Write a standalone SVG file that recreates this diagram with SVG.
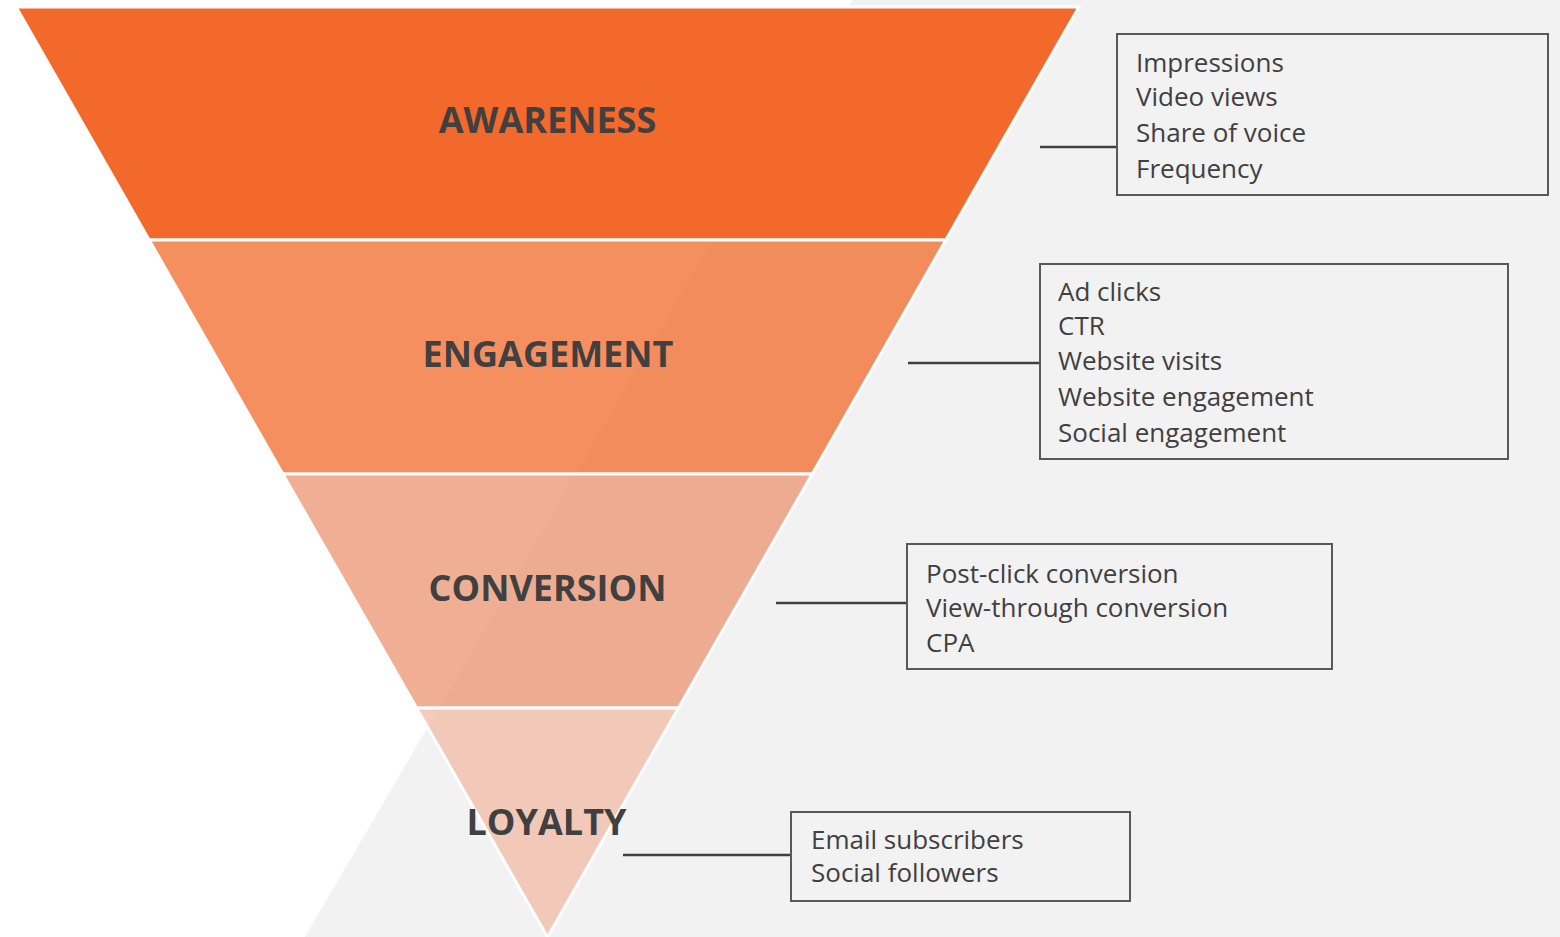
<svg xmlns="http://www.w3.org/2000/svg" width="1560" height="937" viewBox="0 0 1560 937">
  <style>
    .band { stroke: #ffffff; stroke-width: 3; stroke-linejoin: miter; fill-opacity: 0.75; }
    .stage { font-family: "Open Sans", "Noto Sans", "Liberation Sans", sans-serif; font-weight: 700; font-size: 36px; fill: #404040; text-anchor: middle; }
    .box { fill: #f2f2f2; stroke: #595959; stroke-width: 2; }
    .metric { font-family: "Open Sans", "Noto Sans", "Liberation Sans", sans-serif; font-size: 26px; fill: #404040; }
    .link { stroke: #404040; stroke-width: 2.5; fill: none; }
  </style>

  <!-- page background: white with a slanted grey panel on the right -->
  <rect x="0" y="0" width="1560" height="937" fill="#ffffff"/>
  <polygon points="853,0 1560,0 1560,937 305,937" fill="#f2f2f2"/>

  <!-- funnel stages -->
  <g id="awareness">
    <polygon class="band" points="16.1,7 1078.9,7 945.8,240 149.2,240" fill="#f2692b" style="fill-opacity:1"/>
    <text class="stage" x="547.5" y="133">AWARENESS</text>
  </g>
  <g id="engagement">
    <polygon class="band" points="149.2,240 945.8,240 812.2,474 282.8,474" fill="#f2692b"/>
    <text class="stage" x="548" y="367">ENGAGEMENT</text>
  </g>
  <g id="conversion">
    <polygon class="band" points="282.8,474 812.2,474 678.4,708 416.6,708" fill="#eb9470"/>
    <text class="stage" x="547.5" y="601">CONVERSION</text>
  </g>
  <g id="loyalty">
    <polygon class="band" points="416.6,708 678.4,708 547.5,937" fill="#f2baa5"/>
    <text class="stage" x="546.5" y="835">LOYALTY</text>
  </g>

  <!-- connectors from stages to metric boxes -->
  <g id="connectors">
    <line class="link" x1="1040" y1="147" x2="1117" y2="147"/>
    <line class="link" x1="908" y1="363" x2="1040" y2="363"/>
    <line class="link" x1="776" y1="603" x2="907" y2="603"/>
    <line class="link" x1="623" y1="855" x2="791" y2="855"/>
  </g>

  <!-- metric boxes -->
  <g id="awareness-metrics">
    <rect class="box" x="1117" y="34" width="431" height="161"/>
    <text class="metric" x="1136" y="72">Impressions</text>
    <text class="metric" x="1136" y="106">Video views</text>
    <text class="metric" x="1136" y="142">Share of voice</text>
    <text class="metric" x="1136" y="178">Frequency</text>
  </g>
  <g id="engagement-metrics">
    <rect class="box" x="1040" y="264" width="468" height="195"/>
    <text class="metric" x="1058" y="301">Ad clicks</text>
    <text class="metric" x="1058" y="335">CTR</text>
    <text class="metric" x="1058" y="370">Website visits</text>
    <text class="metric" x="1058" y="406">Website engagement</text>
    <text class="metric" x="1058" y="442">Social engagement</text>
  </g>
  <g id="conversion-metrics">
    <rect class="box" x="907" y="544" width="425" height="125"/>
    <text class="metric" x="926" y="583">Post-click conversion</text>
    <text class="metric" x="926" y="617">View-through conversion</text>
    <text class="metric" x="926" y="652">CPA</text>
  </g>
  <g id="loyalty-metrics">
    <rect class="box" x="791" y="812" width="339" height="89"/>
    <text class="metric" x="811" y="849">Email subscribers</text>
    <text class="metric" x="811" y="882">Social followers</text>
  </g>
</svg>
